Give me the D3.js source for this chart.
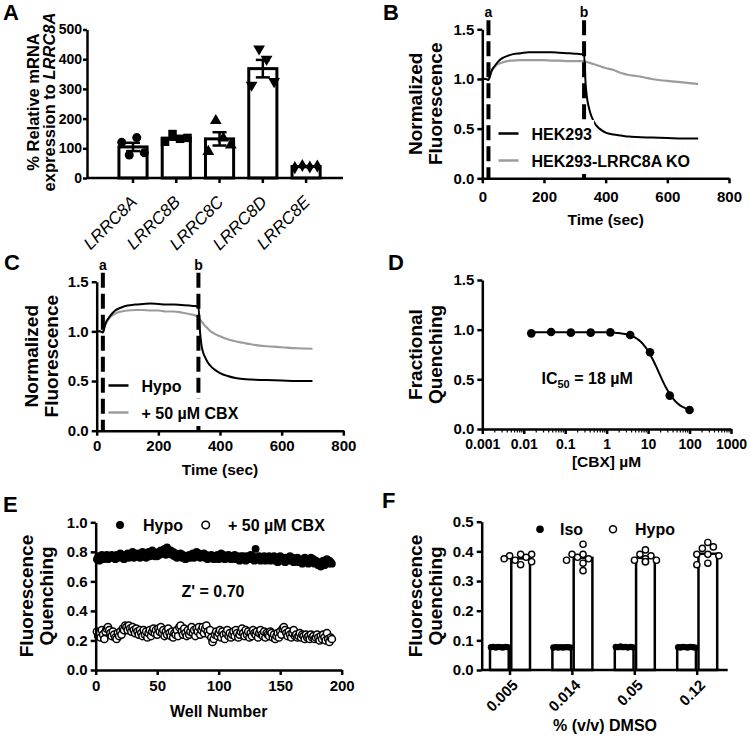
<!DOCTYPE html>
<html><head><meta charset="utf-8">
<script src="https://cdn.jsdelivr.net/npm/d3@7"></script>
<style>
body{margin:0;background:#fff;}
svg{display:block;}
</style></head><body>
<svg id="fig" width="750" height="742"></svg>
<script>
// ---------------- DATA ----------------
// Panel A
const geneNames = ["LRRC8A","LRRC8B","LRRC8C","LRRC8D","LRRC8E"];
const geneReps = [[120,77.5,136,85],[122,148,132,135],[89,193,134,111],[313,435,400,325],[35,42,37,40]];
const aTicks = [0,100,200,300,400,500];
// Panels B and C (time courses)
const times = [0,10,20,25,30,40,50,60,80,100,125,150,175,200,225,250,275,300,320,330,335,340,345,350,360,370,380,400,425,450,475,500,550,600,650,700];
const bHek = [1.0,1.0,0.99,1.03,1.08,1.13,1.17,1.2,1.23,1.25,1.26,1.27,1.27,1.27,1.27,1.265,1.26,1.255,1.25,1.25,0.95,0.8,0.72,0.66,0.58,0.53,0.5,0.46,0.44,0.43,0.42,0.415,0.41,0.405,0.40,0.40];
const bKo = [1.0,1.0,0.99,1.04,1.08,1.12,1.15,1.16,1.18,1.185,1.19,1.19,1.19,1.19,1.185,1.185,1.18,1.18,1.18,1.18,1.175,1.17,1.165,1.16,1.15,1.14,1.13,1.11,1.09,1.06,1.04,1.03,1.0,0.98,0.965,0.95];
const cHypo = [1.0,1.0,0.99,1.04,1.09,1.14,1.18,1.21,1.24,1.26,1.27,1.275,1.28,1.275,1.27,1.27,1.265,1.26,1.255,1.25,1.0,0.86,0.79,0.75,0.69,0.65,0.62,0.58,0.55,0.53,0.52,0.515,0.51,0.505,0.50,0.50];
const cCbx = [1.0,1.0,0.99,1.04,1.08,1.13,1.16,1.18,1.2,1.21,1.215,1.215,1.21,1.21,1.2,1.2,1.19,1.175,1.16,1.14,1.12,1.1,1.08,1.06,1.03,1.0,0.98,0.95,0.92,0.9,0.885,0.87,0.85,0.84,0.83,0.825];
const markTimes = [20,330];
const markLabels = ["a","b"];
const bcYTicks = [0,0.5,1.0,1.5];
const bcXTicks = [0,200,400,600,800];
// Panel D
const cbxConc = [0.0152,0.0457,0.137,0.412,1.23,3.7,11.1,33.3,100];
const cbxFrac = [0.963,0.976,0.97,0.97,0.973,0.946,0.772,0.336,0.191];
const fitTop = 0.975, fitBottom = 0.17, fitIC50 = 18, fitHill = 2.0;
const dXTicks = [0.001,0.01,0.1,1,10,100,1000];
const dXLabels = ["0.001","0.01","0.1","1","10","100","1000"];
// Panel E (192 wells)
const eHypo = [
.75,.77,.74,.76,.78,.75,.77,.76,.78,.75,.77,.76,
.78,.76,.77,.75,.78,.76,.77,.79,.76,.77,.75,.78,
.77,.79,.76,.78,.77,.80,.76,.78,.77,.79,.78,.76,
.78,.80,.77,.79,.76,.78,.80,.77,.79,.81,.78,.77,
.79,.77,.80,.78,.81,.79,.80,.82,.78,.83,.80,.79,
.81,.78,.80,.77,.79,.76,.78,.77,.79,.76,.78,.77,
.75,.77,.76,.78,.76,.77,.79,.76,.78,.80,.77,.79,
.76,.78,.77,.79,.76,.78,.75,.77,.76,.78,.77,.75,
.77,.76,.78,.75,.77,.79,.76,.78,.75,.77,.76,.78,
.76,.75,.77,.76,.78,.75,.77,.76,.74,.77,.75,.77,
.76,.74,.77,.75,.76,.78,.75,.77,.74,.82,.76,.75,
.77,.74,.76,.75,.77,.74,.76,.75,.77,.74,.76,.75,
.77,.74,.76,.73,.75,.77,.74,.76,.75,.73,.76,.74,
.75,.77,.74,.76,.73,.75,.74,.76,.73,.75,.74,.72,
.74,.76,.73,.75,.72,.74,.76,.73,.75,.72,.74,.73,
.71,.73,.70,.72,.74,.71,.73,.75,.72,.74,.73,.72];
const eCbx = [
.26,.23,.25,.22,.27,.24,.21,.26,.28,.29,.27,.25,
.23,.26,.24,.22,.21,.25,.23,.26,.24,.28,.27,.30,
.29,.27,.30,.28,.26,.29,.27,.25,.28,.26,.24,.27,
.25,.23,.27,.24,.26,.22,.25,.27,.23,.26,.28,.25,
.27,.24,.28,.26,.29,.25,.27,.23,.26,.24,.28,.25,
.23,.26,.22,.25,.24,.27,.23,.29,.30,.26,.24,.28,
.25,.23,.27,.24,.26,.29,.25,.27,.23,.28,.26,.29,
.24,.27,.29,.25,.28,.30,.26,.24,.27,.22,.19,.21,
.24,.26,.23,.25,.27,.22,.26,.24,.21,.25,.27,.23,
.25,.22,.24,.26,.23,.27,.25,.22,.24,.26,.28,.25,
.23,.27,.24,.26,.22,.25,.23,.27,.25,.24,.26,.22,
.25,.27,.24,.23,.26,.22,.25,.24,.23,.26,.25,.22,
.24,.21,.23,.25,.22,.26,.24,.28,.29,.27,.25,.23,
.26,.24,.22,.25,.27,.23,.24,.22,.23,.25,.22,.24,
.23,.21,.24,.22,.23,.21,.24,.22,.23,.21,.22,.24,
.22,.20,.23,.21,.24,.22,.20,.25,.21,.19,.22,.21];
const eXTicks = [0,50,100,150,200];
const eYTicks = [0,0.2,0.4,0.6,0.8,1.0];
// Panel F
const doseLabels = ["0.005","0.014","0.05","0.12"];
const fIso = [[0.077,0.078,0.076,0.078,0.077,0.076,0.078,0.077],[0.076,0.077,0.076,0.077,0.076,0.077,0.077,0.076],[0.078,0.077,0.079,0.077,0.078,0.076,0.078,0.077],[0.077,0.076,0.078,0.077,0.076,0.078,0.077,0.076]];
const fHypo = [[0.39,0.385,0.39,0.38,0.37,0.365,0.375,0.355],[0.424,0.39,0.39,0.38,0.375,0.37,0.36,0.335],[0.405,0.39,0.385,0.375,0.37,0.37,0.365,0.365],[0.43,0.41,0.415,0.39,0.39,0.385,0.36,0.355]];
const fYTicks = [0,0.1,0.2,0.3,0.4,0.5];

// ---------------- DRAWING ----------------
const FONT = '"Liberation Sans", Arial, Helvetica, sans-serif';
const svg = d3.select("#fig").attr("font-family", FONT);
const GRAY = "#9b9b9b";

function text(x, y, s, o = {}, parent = svg) {
  const t = parent.append("text").attr("x", x).attr("y", y).text(s)
    .attr("font-size", o.size || 16).attr("font-weight", o.weight || "bold")
    .attr("text-anchor", o.anchor || "start").attr("fill", "#000");
  if (o.style) t.attr("font-style", o.style);
  return t;
}
function styleAxis(g, fs) {
  g.attr("font-family", FONT).attr("font-size", fs).attr("font-weight", "bold");
  g.select(".domain").attr("stroke", "#000").attr("stroke-width", 2.5);
  g.selectAll(".tick line").attr("stroke", "#000").attr("stroke-width", 2.5);
  g.selectAll(".tick text").attr("fill", "#000");
  return g;
}
function yAxis(scale, x, ticks, fmt, fs = 15, pad = 3, size = 5) {
  const g = svg.append("g").attr("transform", `translate(${x},0)`)
    .call(d3.axisLeft(scale).tickValues(ticks).tickFormat(fmt).tickSize(size).tickSizeOuter(0).tickPadding(pad));
  return styleAxis(g, fs);
}
function xAxis(scale, y, ticks, fmt, pad, fs = 15) {
  const ax = d3.axisBottom(scale).tickSize(5).tickSizeOuter(0).tickPadding(pad);
  if (ticks) ax.tickValues(ticks);
  if (fmt) ax.tickFormat(fmt);
  const g = svg.append("g").attr("transform", `translate(0,${y})`).call(ax);
  return styleAxis(g, fs);
}
function yTitle(lines, xs, cy, fs = 19) {
  lines.forEach((ln, i) => {
    const t = svg.append("text").attr("transform", `translate(${xs[i]},${cy}) rotate(-90)`)
      .attr("text-anchor", "middle").attr("font-size", fs).attr("font-weight", "bold").attr("fill", "#000");
    ln.forEach(part => {
      const sp = t.append("tspan").text(part.t);
      if (part.i) sp.attr("font-style", "italic");
    });
  });
}
function panelLabel(s, x, y) { text(x, y, s, { size: 22 }); }

// ===== Panel A =====
panelLabel("A", 3, 20);
const aX = d3.scaleBand().domain(geneNames).range([103.8, 335.3]).padding(0.35);
const aY = d3.scaleLinear().domain([0, 500]).range([178, 29.5]);
const symbolsA = [d3.symbolCircle, d3.symbolSquare, d3.symbolTriangle, d3.symbolTriangle, d3.symbolDiamond];
const sizesA = [64, 72, 60, 60, 50];
geneNames.forEach((g, i) => {
  const reps = geneReps[i];
  const m = d3.mean(reps), sem = d3.deviation(reps) / Math.sqrt(reps.length);
  const x0 = aX(g), bw = aX.bandwidth(), cx = x0 + bw / 2;
  svg.append("rect").attr("x", x0).attr("y", aY(m)).attr("width", bw).attr("height", aY(0) - aY(m))
    .attr("fill", "#fff").attr("stroke", "#000").attr("stroke-width", 3);
  const eb = svg.append("g").attr("stroke", "#000").attr("stroke-width", 2.5);
  eb.append("line").attr("x1", cx).attr("x2", cx).attr("y1", aY(m - sem)).attr("y2", aY(m + sem));
  [m - sem, m + sem].forEach(v => eb.append("line").attr("x1", cx - 7).attr("x2", cx + 7).attr("y1", aY(v)).attr("y2", aY(v)));
  reps.forEach((v, j) => {
    const off = (j - (reps.length - 1) / 2) * 7.5;
    svg.append("path").attr("d", d3.symbol(symbolsA[i], sizesA[i])())
      .attr("transform", `translate(${cx + off},${aY(v)})` + (i === 3 ? " rotate(180)" : ""))
      .attr("fill", "#000");
  });
});
yAxis(aY, 87, aTicks, d3.format("d"), 14, 1, 4);
{
  const g = xAxis(aX, 178, null, null, 0, 17);
  g.select(".domain").attr("d", "M87,0H343");
  g.selectAll(".tick text").attr("font-style", "italic").attr("font-weight", "normal")
    .attr("text-anchor", "end").attr("y", 0).attr("dy", 0).attr("transform", "translate(5,25) rotate(-45)");
}
yTitle([[{ t: "% Relative mRNA" }], [{ t: "expression to " }, { t: "LRRC8A", i: true }]], [39, 55], 102, 16.5);

// ===== Panels B & C =====
function timePanel(label, lx, ly, xr, yr, s1, s2, names, legX, legY, titleXs, xTitleY, tickPad) {
  panelLabel(label, lx, ly);
  const x = d3.scaleLinear().domain([0, 800]).range(xr);
  const y = d3.scaleLinear().domain([0, 1.5]).range(yr);
  const line = d3.line().x((d, i) => x(times[i])).y(d => y(d)).curve(d3.curveMonotoneX);
  svg.append("path").attr("d", line(s2)).attr("fill", "none").attr("stroke", GRAY).attr("stroke-width", 2.2);
  svg.append("path").attr("d", line(s1)).attr("fill", "none").attr("stroke", "#000").attr("stroke-width", 2);
  markTimes.forEach((t, i) => {
    svg.append("line").attr("x1", x(t)).attr("x2", x(t)).attr("y1", y(1.5) - 9).attr("y2", y(0))
      .attr("stroke", "#000").attr("stroke-width", 4).attr("stroke-dasharray", "15,6");
    text(x(t), y(1.5) - 12, markLabels[i], { size: 14, anchor: "middle" });
  });
  // legend (each row has an opaque background, as in the original)
  const lg = svg.append("g");
  [["#000", names[0]], [GRAY, names[1]]].forEach((d, i) => {
    const yy = legY + i * 27;
    const bg = lg.append("rect").attr("fill", "#fff");
    lg.append("line").attr("x1", legX).attr("x2", legX + 20).attr("y1", yy).attr("y2", yy)
      .attr("stroke", d[0]).attr("stroke-width", 2.5);
    const t = text(legX + 33, yy + 6, d[1], { size: 16 }, lg);
    const bb = t.node().getBBox();
    bg.attr("x", legX - 2.5).attr("y", yy - 13.5).attr("width", bb.x + bb.width + 2 - (legX - 2.5)).attr("height", 27);
  });
  yAxis(y, xr[0], bcYTicks, d3.format(".1f"), 15);
  xAxis(x, yr[0], bcXTicks, d3.format("d"), tickPad, 15);
  yTitle([[{ t: "Normalized" }], [{ t: "Fluorescence" }]], titleXs, (yr[0] + yr[1]) / 2, 19);
  text((xr[0] + xr[1]) / 2, xTitleY, "Time (sec)", { size: 15.5, anchor: "middle" });
}
timePanel("B", 383, 20, [482.3, 729], [178.3, 29.3], bHek, bKo, ["HEK293", "HEK293-LRRC8A KO"], 498.5, 133.5, [421.7, 441.7], 225, 8);
timePanel("C", 4, 270, [96.7, 343.3], [430.7, 281.7], cHypo, cCbx, ["Hypo", "+ 50 µM CBX"], 108.5, 385.5, [38.3, 58.3], 475, 5);

// ===== Panel D =====
panelLabel("D", 388, 270);
{
  const x = d3.scaleLog().domain([0.001, 1000]).range([482.3, 731]);
  const y = d3.scaleLinear().domain([0, 1.5]).range([429, 280]);
  const lo = Math.log10(cbxConc[0]), hi = Math.log10(cbxConc[cbxConc.length - 1]);
  const curveX = d3.range(0, 101).map(i => Math.pow(10, lo + i / 100 * (hi - lo)));
  const fit = c => fitBottom + (fitTop - fitBottom) / (1 + Math.pow(c / fitIC50, fitHill));
  svg.append("path").attr("d", d3.line().x(c => x(c)).y(c => y(fit(c)))(curveX))
    .attr("fill", "none").attr("stroke", "#000").attr("stroke-width", 2);
  cbxConc.forEach((c, i) => svg.append("circle").attr("cx", x(c)).attr("cy", y(cbxFrac[i])).attr("r", 4.3).attr("fill", "#000"));
  yAxis(y, 482.3, bcYTicks, d3.format(".1f"), 15);
  const g = xAxis(x, 429, dXTicks, (d, i) => dXLabels[i], 5, 14);
  const minors = [];
  for (let e = -3; e < 3; e++) for (let k = 2; k <= 9; k++) minors.push(k * Math.pow(10, e));
  g.selectAll(".minor").data(minors).enter().append("line").attr("class", "minor")
    .attr("x1", d => x(d)).attr("x2", d => x(d)).attr("y1", 0).attr("y2", 3.5)
    .attr("stroke", "#000").attr("stroke-width", 1.2);
  const t = text(541.5, 383.5, "IC", { size: 16 });
  t.append("tspan").text("50").attr("font-size", 11).attr("dy", 4);
  t.append("tspan").text(" = 18 µM").attr("dy", -4);
  yTitle([[{ t: "Fractional" }], [{ t: "Quenching" }]], [421.7, 441.7], 354.5, 19);
  text(606.5, 467, "[CBX] µM", { size: 15.5, anchor: "middle" });
}

// ===== Panel E =====
panelLabel("E", 3, 512);
{
  const x = d3.scaleLinear().domain([0, 200]).range([95.7, 341.7]);
  const y = d3.scaleLinear().domain([0, 1]).range([670, 522.3]);
  eHypo.forEach((v, i) => svg.append("circle").attr("cx", x(i + 1)).attr("cy", y(v)).attr("r", 3.9).attr("fill", "#000"));
  eCbx.forEach((v, i) => svg.append("circle").attr("cx", x(i + 1)).attr("cy", y(v)).attr("r", 3.6)
    .attr("fill", "#fff").attr("stroke", "#000").attr("stroke-width", 1.5));
  yAxis(y, 95.7, eYTicks, d3.format(".1f"), 15);
  xAxis(x, 670, eXTicks, d3.format("d"), 5, 15);
  svg.append("circle").attr("cx", 120).attr("cy", 525).attr("r", 4).attr("fill", "#000");
  text(143, 530.5, "Hypo", { size: 16 });
  svg.append("circle").attr("cx", 205.7).attr("cy", 525).attr("r", 3.8).attr("fill", "#fff").attr("stroke", "#000").attr("stroke-width", 1.5);
  text(228, 530.5, "+ 50 µM CBX", { size: 16 });
  text(181.5, 596.5, "Z' = 0.70", { size: 16 });
  yTitle([[{ t: "Fluorescence" }], [{ t: "Quenching" }]], [33.3, 53.3], 596, 19);
  text(218.7, 717, "Well Number", { size: 16, anchor: "middle" });
}

// ===== Panel F =====
panelLabel("F", 382, 508);
{
  const x = d3.scaleBand().domain(doseLabels).range([478.8, 728.4]);
  const sub = d3.scaleBand().domain(["Iso", "Hypo"]).range([-20, 20]).paddingInner(0.12);
  const y = d3.scaleLinear().domain([0, 0.5]).range([670, 521.7]);
  doseLabels.forEach((d, gi) => {
    const c = x(d) + x.bandwidth() / 2;
    [["Iso", fIso[gi]], ["Hypo", fHypo[gi]]].forEach(([k, reps]) => {
      const m = d3.mean(reps), x0 = c + sub(k), bw = sub.bandwidth();
      svg.append("rect").attr("x", x0).attr("y", y(m)).attr("width", bw).attr("height", y(0) - y(m))
        .attr("fill", "#fff").attr("stroke", "#000").attr("stroke-width", 2.5);
      const bc = x0 + bw / 2;
      if (k === "Iso") {
        reps.forEach((v, j) => svg.append("circle").attr("cx", bc + (j - (reps.length - 1) / 2) * 2.4).attr("cy", y(v))
          .attr("r", 3.2).attr("fill", "#000"));
      } else {
        const placed = [];
        reps.forEach(v => {
          const yy = y(v);
          let off = 0;
          for (const kk of [0, -1, 1, -2, 2, -3, 3]) {
            const xx = kk * 5.5;
            if (placed.every(p => Math.hypot(p[0] - xx, p[1] - yy) >= 6.2)) { off = xx; break; }
          }
          placed.push([off, yy]);
          svg.append("circle").attr("cx", bc + off).attr("cy", yy).attr("r", 3.1)
            .attr("fill", "#fff").attr("stroke", "#000").attr("stroke-width", 1.4);
        });
      }
    });
  });
  yAxis(y, 481.7, fYTicks, d3.format(".1f"), 15);
  const g = xAxis(x, 670, null, null, 0, 15);
  g.select(".domain").attr("d", "M481.7,0H727.7");
  g.selectAll(".tick text").attr("text-anchor", "end").attr("y", 0).attr("dy", 0)
    .attr("transform", "translate(9,16) rotate(-45)");
  svg.append("circle").attr("cx", 540).attr("cy", 529.3).attr("r", 3.8).attr("fill", "#000");
  text(560, 535, "Iso", { size: 16 });
  svg.append("circle").attr("cx", 613).attr("cy", 529.3).attr("r", 3.5).attr("fill", "#fff").attr("stroke", "#000").attr("stroke-width", 1.5);
  text(635, 535, "Hypo", { size: 16 });
  yTitle([[{ t: "Fluorescence" }], [{ t: "Quenching" }]], [421.7, 441.7], 596, 19);
  text(605, 731, "% (v/v) DMSO", { size: 16, anchor: "middle" });
}
</script>
</body></html>
